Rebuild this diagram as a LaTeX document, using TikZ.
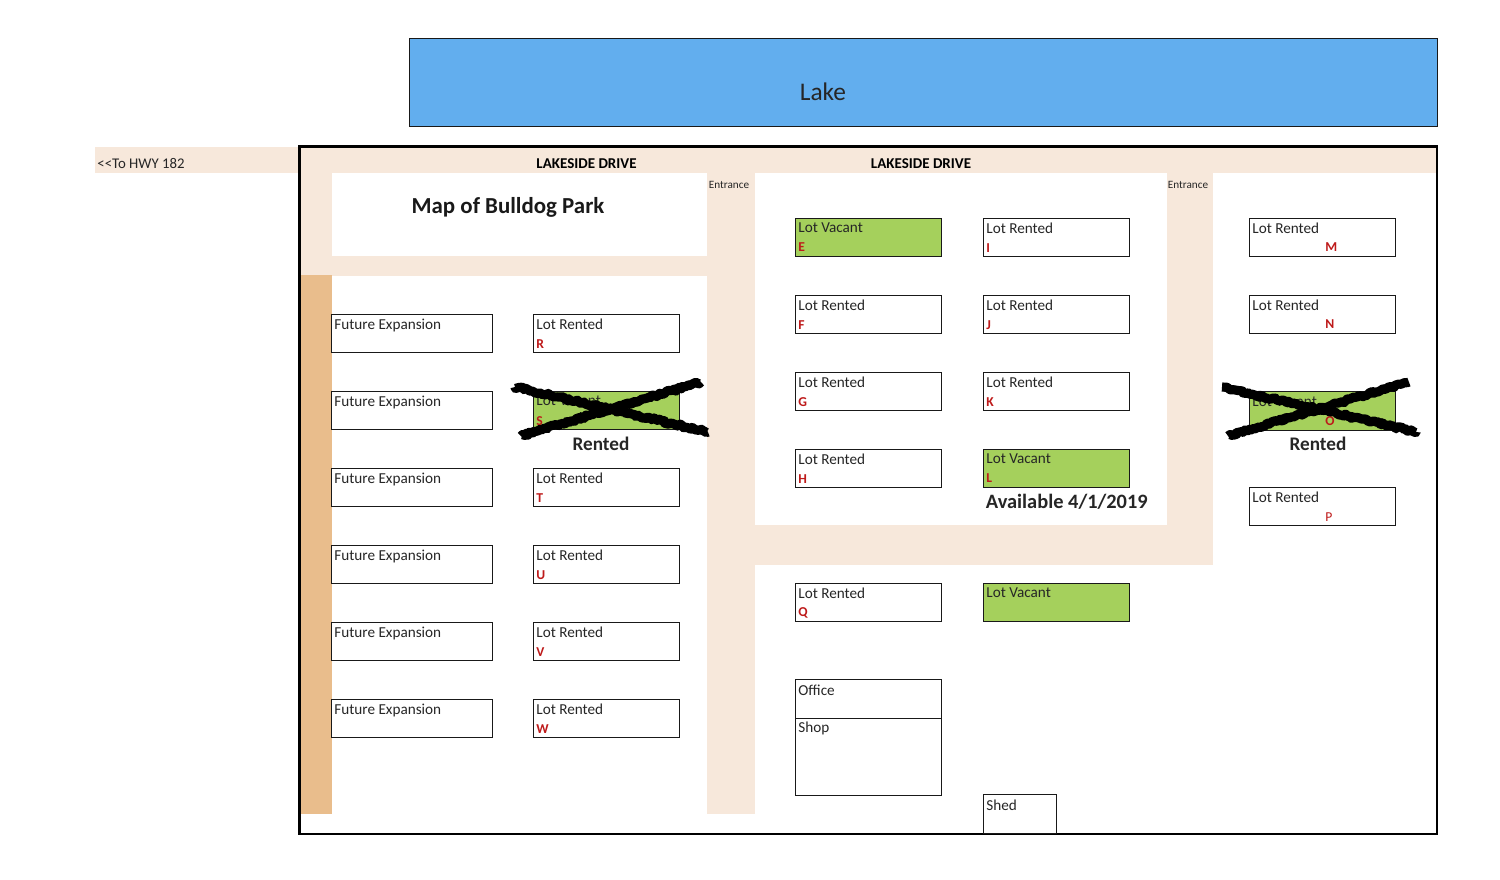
\documentclass[tikz,border=0pt]{standalone}
\usepackage{fontspec}
\setmainfont{Carlito}
\usetikzlibrary{decorations.pathmorphing}
\definecolor{road}{HTML}{F7E8DB}
\definecolor{bank}{HTML}{E9BD8C}
\definecolor{lake}{HTML}{62AEEE}
\definecolor{grn}{HTML}{A5D05C}
\definecolor{redl}{HTML}{BE1A1A}
\tikzset{
  x=0.5pt,y=-0.5pt,
  roadarea/.style={fill=road,draw=none},
  lotbox/.style={draw=black!90,line width=0.6pt,fill=white,anchor=north west,inner sep=0pt,outer sep=0pt},
  vacant/.style={lotbox,fill=grn},
  lbl/.style={anchor=west,inner sep=0pt,font=\fontsize{7.6}{9}\selectfont,text=black!85},
  ltr/.style={anchor=west,inner sep=0pt,font=\fontsize{6.8}{8}\selectfont\bfseries,text=redl},
  scrawl/.style={draw=black,line width=4.6pt,line join=round,decorate,decoration={random steps,segment length=1pt,amplitude=0.7pt}},
  heavy/.style={inner sep=0pt,font=\fontsize{9.6}{11}\selectfont\bfseries,text=black!85},
  drive/.style={inner sep=0pt,font=\fontsize{7.5}{9}\selectfont\bfseries,text=black},
  small/.style={inner sep=0pt,font=\fontsize{5.6}{6}\selectfont,text=black!85}
}
% name, x, y, width, height, style
\newcommand{\lotrect}[6]{\node[#6,minimum width=#4*0.5pt+0.3pt,minimum height=#5*0.5pt] (#1) at (#2,#3+0.6) {};}
\begin{document}
\begin{tikzpicture}
\useasboundingbox (0,0) rectangle (1500,879);
\fill[white] (0,0) rectangle (1500,879);
% roads
\fill[roadarea] (95,147) rectangle (1436,173);
\fill[roadarea] (300,173) rectangle (332,276);
\fill[roadarea] (300,256) rectangle (707,276);
\fill[roadarea] (707,173) rectangle (755,814);
\fill[roadarea] (1167,173) rectangle (1213,565);
\fill[roadarea] (755,525) rectangle (1213,565);
\fill[bank] (300,275) rectangle (332,814);
% frame
\node[draw=black,line width=1.2pt,anchor=north west,inner sep=0pt,outer sep=0pt,minimum width=568.75pt,minimum height=343.75pt] (frame) at (299.5,146.5) {};
% lake
\node[draw=black!90,line width=0.6pt,fill=lake,anchor=north west,inner sep=0pt,outer sep=0pt,minimum width=514pt,minimum height=43.8pt] (lake) at (409.5,38.7) {};
\node[inner sep=0pt,font=\fontsize{12.7}{14}\selectfont,text=black!85] (laketext) at (823,92) {Lake};
% road labels
\node[anchor=west,inner sep=0pt,font=\fontsize{7.4}{9}\selectfont,text=black!85] (hwy) at (97,163.5) {<{}<To HWY 182};
\node[drive] (d1) at (586.5,164) {LAKESIDE DRIVE};
\node[drive] (d2) at (921,164) {LAKESIDE DRIVE};
\node[small] (e1) at (729,185) {Entrance};
\node[small] (e2) at (1188,185) {Entrance};
\node[inner sep=0pt,font=\fontsize{11.45}{13}\selectfont\bfseries,text=black!90] (title) at (508,207) {Map of Bulldog Park};
% lots: future expansion
\foreach \n/\y in {a/313.7,b/390.7,c/467.7,d/544.7,e/621.7,f/698.7}{
  \lotrect{fx\n}{331.3}{\y}{160.5}{38.5}{lotbox}
}
\foreach \n/\y in {a/314,b/391,c/468,d/545,e/622,f/699}{
  \node[lbl] (fx\n t) at (334,\y+11) {Future Expansion};
}
% column R-W
\foreach \n/\y/\s in {R/313.7/lotbox,S/390.7/vacant,T/467.7/lotbox,U/544.7/lotbox,V/621.7/lotbox,W/698.7/lotbox}{
  \lotrect{lot\n}{533.3}{\y}{145.5}{38.5}{\s}
}
\foreach \n/\y in {R/314,T/468,U/545,V/622,W/699}{
  \node[lbl] (lot\n t) at (536,\y+10) {Lot Rented};
  \node[ltr] (lot\n l) at (536,\y+30) {\n};
}
\node[lbl] (lotSt) at (536,401) {Lot Vacant};
\node[ltr] (lotSl) at (536,421) {S};
% column E-H
\foreach \n/\y/\s in {E/217.7/vacant,F/294.7/lotbox,G/371.7/lotbox,H/448.7/lotbox,Q/582.7/lotbox}{
  \lotrect{lot\n}{795.3}{\y}{145.5}{38.5}{\s}
}
\node[lbl] (lotEt) at (798,228) {Lot Vacant};
\node[ltr] (lotEl) at (798,247.5) {E};
\foreach \n/\y in {F/295,G/372,H/449,Q/583}{
  \node[lbl] (lot\n t) at (798,\y+10) {Lot Rented};
  \node[ltr] (lot\n l) at (798,\y+30) {\n};
}
% column I-L
\foreach \n/\y/\s in {I/217.7/lotbox,J/294.7/lotbox,K/371.7/lotbox,L/448.7/vacant,Z/582.7/vacant}{
  \lotrect{lot\n}{983.3}{\y}{145.5}{38.5}{\s}
}
\foreach \n/\y in {I/218,J/295,K/372}{
  \node[lbl] (lot\n t) at (986,\y+10) {Lot Rented};
  \node[ltr] (lot\n l) at (986,\y+30) {\n};
}
\node[lbl] (lotLt) at (986,459) {Lot Vacant};
\node[ltr] (lotLl) at (986,478.5) {L};
\node[lbl] (lotZt) at (986,593) {Lot Vacant};
\node[inner sep=0pt,anchor=west,font=\fontsize{10.2}{12}\selectfont\bfseries,text=black!85] (avail) at (985.5,502) {Available 4/1/2019};
% column M-P
\foreach \n/\y/\s in {M/217.7/lotbox,N/294.7/lotbox,O/391/vacant,P/486.7/lotbox}{
  \lotrect{lot\n}{1249.3}{\y}{145.5}{38.5}{\s}
}
\node[lbl] (lotMt) at (1252,228) {Lot Rented};
\node[ltr] (lotMl) at (1325,247.5) {M};
\node[lbl] (lotNt) at (1252,305) {Lot Rented};
\node[ltr] (lotNl) at (1325,324.5) {N};
\node[lbl] (lotOt) at (1252,402) {Lot Vacant};
\node[ltr] (lotOl) at (1325,421) {O};
\node[lbl] (lotPt) at (1252,497) {Lot Rented};
\node[anchor=west,inner sep=0pt,font=\fontsize{6.8}{8}\selectfont,text=redl] (lotPl) at (1325,517) {P};
% office, shop, shed
\lotrect{office}{795.3}{678.7}{145.5}{39}{lotbox}
\node[lbl] (officet) at (798,690) {Office};
\lotrect{shop}{795.3}{717.7}{145.5}{77}{lotbox}
\node[lbl] (shopt) at (798,728.5) {Shop};
\lotrect{shed}{983.3}{794.2}{72.5}{39}{lotbox}
\node[lbl] (shedt) at (986,805) {Shed};
% scrawled crosses
\coordinate (s1) at (515,387);
\coordinate (s2) at (708,432);
\coordinate (s3) at (521,436);
\coordinate (s4) at (701,382);
\draw[scrawl] (s1) -- (s2);
\draw[scrawl] (s3) -- (s4);
\coordinate (o1) at (1222,387);
\coordinate (o2) at (1416,432);
\coordinate (o3) at (1228,436);
\coordinate (o4) at (1409,382);
\draw[scrawl] (o1) -- (o2);
\draw[scrawl] (o3) -- (o4);
\node[heavy] (rent1) at (601,443.5) {Rented};
\node[heavy] (rent2) at (1318,443.5) {Rented};
\end{tikzpicture}
\end{document}
